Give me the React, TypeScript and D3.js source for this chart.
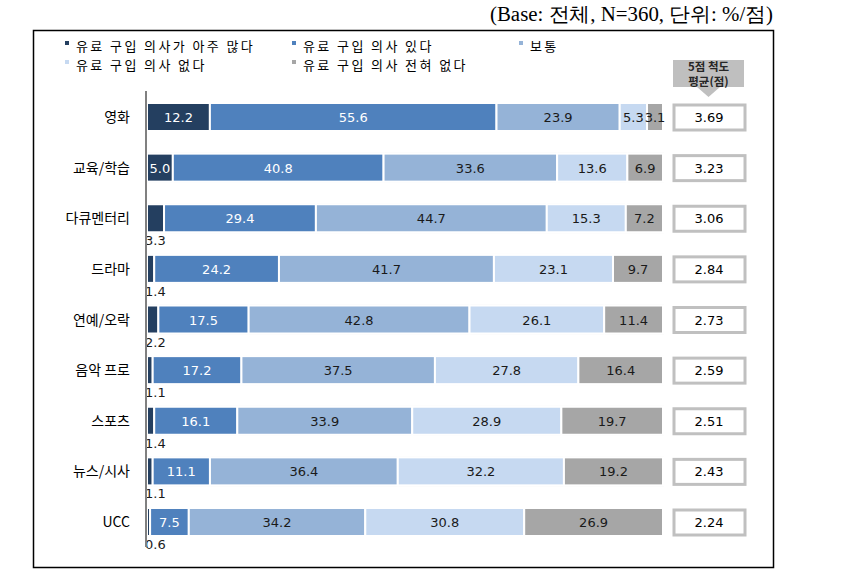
import React from "react";
import * as d3 from "d3";

const categories = ["영화", "교육/학습", "다큐멘터리", "드라마", "연예/오락", "음악 프로", "스포츠", "뉴스/시사", "UCC"];
const seriesNames = ["유료 구입 의사가 아주 많다", "유료 구입 의사 있다", "보통", "유료 구입 의사 없다", "유료 구입 의사 전혀 없다"];
const veryMuch = [12.2, 5.0, 3.3, 1.4, 2.2, 1.1, 1.4, 1.1, 0.6];
const willing = [55.6, 40.8, 29.4, 24.2, 17.5, 17.2, 16.1, 11.1, 7.5];
const neutral = [23.9, 33.6, 44.7, 41.7, 42.8, 37.5, 33.9, 36.4, 34.2];
const unwilling = [5.3, 13.6, 15.3, 23.1, 26.1, 27.8, 28.9, 32.2, 30.8];
const never = [3.1, 6.9, 7.2, 9.7, 11.4, 16.4, 19.7, 19.2, 26.9];
const means = [3.69, 3.23, 3.06, 2.84, 2.73, 2.59, 2.51, 2.43, 2.24];

const colors = ["#243F60", "#4F81BD", "#95B3D7", "#C6D9F1", "#A6A6A6"];
const labelColors = ["#ffffff", "#ffffff", "#1a1a1a", "#1a1a1a", "#1a1a1a"];

const NUM_FONT = "'DejaVu Sans', Verdana, sans-serif";
const KR_FONT = "'Noto Sans CJK KR', sans-serif";

export default function App() {
  const series = [veryMuch, willing, neutral, unwilling, never];
  const x = d3.scaleLinear().domain([0, 100]).range([147, 663]);
  const y = d3.scalePoint<string>().domain(categories).range([117, 522]);
  const barH = 28;

  const rows = categories.map((c, i) => {
    const vals = series.map((s) => s[i]);
    const total = d3.sum(vals);
    let cum = 0;
    const segs = vals.map((v, k) => {
      const s0 = (cum / total) * 100;
      cum += v;
      const s1 = (cum / total) * 100;
      return { k, v, x0: x(s0), x1: x(s1) };
    });
    return { c, i, segs };
  });

  const legendCols = [
    { x: 65, items: [0, 3] },
    { x: 292, items: [1, 4] },
    { x: 519, items: [2] },
  ];
  const legendRowY = [51, 70];

  return (
    <svg width={842} height={584} style={{ position: "absolute", left: 0, top: 0, background: "#fff" }}>
      <text x={773} y={21} textAnchor="end" fontFamily="'Liberation Serif', serif" fontSize={20} fill="#000"
        textLength={283} lengthAdjust="spacingAndGlyphs">
        (Base: 전체, N=360, 단위: %/점)
      </text>
      <rect x={33.5} y={30.5} width={740} height={537} fill="none" stroke="#000" strokeWidth={1.5} />

      {legendCols.map((col, ci) => (
        <g key={ci}>
          {col.items.map((k, r) => (
            <rect key={k} x={col.x} y={legendRowY[r] - 10} width={4} height={4} fill={colors[k]} />
          ))}
          <text fontFamily={KR_FONT} fontSize={13} fill="#000" letterSpacing={2.4}>
            {col.items.map((k, r) => (
              <tspan key={k} x={col.x + 11} y={legendRowY[r]}>{seriesNames[k]}</tspan>
            ))}
          </text>
        </g>
      ))}

      <rect x={673} y={60} width={71} height={27} fill="#BFBFBF" />
      <text textAnchor="middle" fontFamily={KR_FONT} fontSize={11.5} fontWeight="bold" fill="#262626">
        <tspan x={708.5} y={71}>5점 척도</tspan>
        <tspan x={708.5} y={86}>평균(점)</tspan>
      </text>
      <path d="M697,87 L720,87 L708.5,97 Z" fill="#BFBFBF" />

      {rows.map((r) => {
        const cy = y(r.c) as number;
        return (
          <g key={r.c}>
            <rect x={x(0)} y={cy - barH / 2 - 1} width={x(100) - x(0) + 1} height={barH + 2} fill="#F4F4F4" />
            {r.segs.map((s) => (
              <rect key={s.k} x={s.x0} y={cy - barH / 2} width={Math.max(0, s.x1 - s.x0)} height={barH}
                fill={colors[s.k]} stroke="#fff" strokeWidth={2} />
            ))}
            {r.segs.map((s) => {
              const below = s.k === 0 && s.v < 4;
              if (below) {
                return (
                  <text key={"l" + s.k} x={145} y={cy + barH / 2 + 13} fontFamily={NUM_FONT} fontSize={13} fill="#1a1a1a">
                    {s.v.toFixed(1)}
                  </text>
                );
              }
              return (
                <text key={"l" + s.k} x={(s.x0 + s.x1) / 2} y={cy + 5} textAnchor="middle" fontFamily={NUM_FONT}
                  fontSize={13} fill={labelColors[s.k]}>
                  {s.v.toFixed(1)}
                </text>
              );
            })}
            <text x={130} y={cy + 5} textAnchor="end" fontFamily={KR_FONT} fontSize={14} fill="#000">{r.c}</text>
            <rect x={674} y={cy - 12} width={71} height={25} fill="#fff" stroke="#C0C0C0" strokeWidth={3} />
            <text x={709} y={cy + 5} textAnchor="middle" fontFamily={NUM_FONT} fontSize={13} fill="#000">
              {means[r.i].toFixed(2)}
            </text>
          </g>
        );
      })}

      <line x1={146} x2={146} y1={91} y2={547} stroke="#808080" strokeWidth={2} />
    </svg>
  );
}
